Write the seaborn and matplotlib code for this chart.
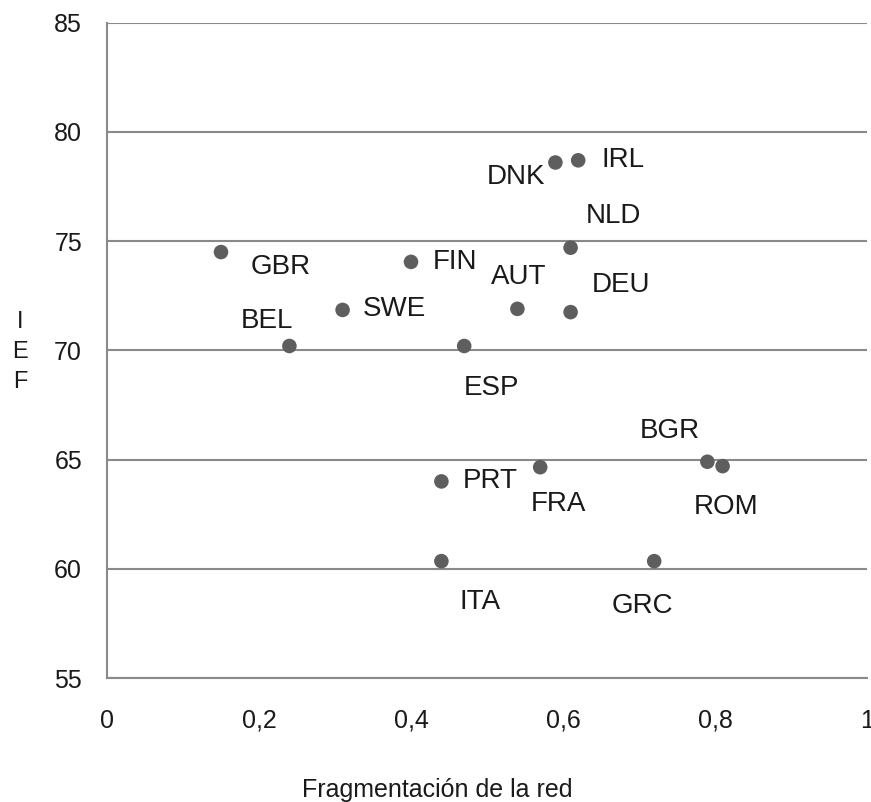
import matplotlib
matplotlib.use("Agg")
import matplotlib.pyplot as plt
import seaborn as sns
import pandas as pd
from matplotlib.ticker import FuncFormatter

# datos
paises = ["GBR", "BEL", "SWE", "FIN", "ESP", "AUT", "DNK", "IRL",
          "NLD", "DEU", "PRT", "FRA", "ITA", "GRC", "BGR", "ROM"]
fragmentacion = [0.15, 0.24, 0.31, 0.40, 0.47, 0.54, 0.59, 0.62,
                 0.61, 0.61, 0.44, 0.57, 0.44, 0.72, 0.79, 0.81]
ief = [74.5, 70.2, 71.85, 74.05, 70.2, 71.9, 78.6, 78.7,
       74.7, 71.75, 64.0, 64.65, 60.35, 60.35, 64.9, 64.7]

# desplazamiento de etiquetas en pixeles (x a la derecha, y hacia arriba)
offsets = {
    "GBR": (60, -15), "BEL": (-22, 25), "SWE": (52, 1), "FIN": (44, 0),
    "ESP": (27, -42), "AUT": (1, 32), "DNK": (-39, -15), "IRL": (45, 0),
    "NLD": (43, 32), "DEU": (50, 27), "PRT": (49, 0), "FRA": (18, -37),
    "ITA": (39, -41), "GRC": (-12, -45), "BGR": (-38, 31), "ROM": (3, -41),
}

df = pd.DataFrame({"pais": paises, "x": fragmentacion, "y": ief})

sns.set_style("white")
plt.rcParams['font.family'] = ['Liberation Sans', 'DejaVu Sans']

DPI = 100
fig = plt.figure(figsize=(8.71, 8.02), dpi=DPI)
ax = fig.add_axes([107 / 871, 1 - 678 / 802, 760 / 871, (678 - 22.7) / 802])

gris = "#8a8a8a"
ax.set_xlim(0, 1)
ax.set_ylim(55, 85)
ax.set_yticks(range(55, 86, 5))
ax.set_xticks([0, 0.2, 0.4, 0.6, 0.8, 1.0])
ax.yaxis.grid(True, color=gris, linewidth=1.5)
ax.set_axisbelow(True)

sns.scatterplot(data=df, x="x", y="y", ax=ax, s=110, color="#5e5e5e",
                edgecolor="none", zorder=3)

px2pt = 72 / DPI
for p, xv, yv in zip(paises, fragmentacion, ief):
    dx, dy = offsets[p]
    ax.annotate(p, (xv, yv), xytext=(dx * px2pt, dy * px2pt),
                textcoords="offset points", ha="center", va="center",
                fontsize=20, color="#1a1a1a")

def coma(v, pos):
    if abs(v - round(v)) < 1e-9:
        return str(int(round(v)))
    return f"{v:.1f}".replace(".", ",")

ax.xaxis.set_major_formatter(FuncFormatter(coma))

for lado in ["top", "right"]:
    ax.spines[lado].set_visible(False)
for lado in ["left", "bottom"]:
    ax.spines[lado].set_color(gris)
    ax.spines[lado].set_linewidth(1.5)

ax.tick_params(axis="both", direction="out", length=6, width=1.5, color=gris,
               labelsize=18, labelcolor="#1a1a1a")
ax.tick_params(axis="x", pad=16)
ax.tick_params(axis="y", pad=12)
ax.set_xlabel("")
ax.set_ylabel("")

fig.text(20 / 871, 1 - 352 / 802, "I\nE\nF", ha="center", va="center",
         fontsize=17, color="#1a1a1a", linespacing=1.45)
fig.text(437 / 871, 1 - 790 / 802, "Fragmentación de la red", ha="center",
         va="center", fontsize=18, color="#1a1a1a")

fig.savefig("out.png", dpi=DPI)
